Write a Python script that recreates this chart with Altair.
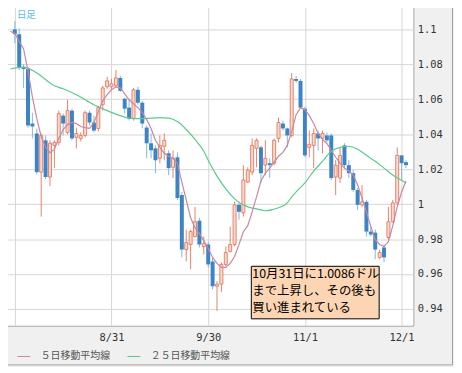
import altair as alt
import pandas as pd

# ---- data ----
dates = pd.bdate_range("2011-08-01", "2011-12-02")
date_labels = [f"{d.month}/{d.day}" for d in dates]

opens = [1.1000, 1.0972, 1.0784, 1.0773, 1.0461, 1.0404, 1.0183, 1.0365, 1.0155, 1.0336,
         1.0353, 1.0506, 1.0410, 1.0535, 1.0382, 1.0376, 1.0393, 1.0523, 1.0467, 1.0433,
         1.0569, 1.0671, 1.0671, 1.0677, 1.0722, 1.0603, 1.0552, 1.0489, 1.0654, 1.0580,
         1.0438, 1.0348, 1.0319, 1.0262, 1.0331, 1.0291, 1.0211, 1.0268, 1.0052, 0.9740,
         0.9769, 0.9814, 0.9905, 0.9757, 0.9769, 0.9672, 0.9530, 0.9542, 0.9655, 0.9729,
         0.9769, 0.9996, 0.9950, 1.0126, 1.0183, 1.0319, 1.0325, 1.0223, 1.0234, 1.0234,
         1.0376, 1.0461, 1.0433, 1.0393, 1.0716, 1.0705, 1.0546, 1.0325, 1.0336, 1.0404,
         1.0376, 1.0393, 1.0393, 1.0155, 1.0149, 1.0336, 1.0223, 1.0177, 1.0081, 0.9996,
         1.0013, 0.9843, 0.9837, 0.9695, 0.9752, 0.9809, 0.9899, 1.0007, 1.0279, 1.0240]
closes = [1.0972, 1.0779, 1.0773, 1.0450, 1.0444, 1.0183, 1.0393, 1.0155, 1.0348, 1.0353,
          1.0518, 1.0461, 1.0535, 1.0376, 1.0404, 1.0393, 1.0523, 1.0467, 1.0421, 1.0552,
          1.0665, 1.0705, 1.0688, 1.0722, 1.0648, 1.0546, 1.0489, 1.0654, 1.0580, 1.0461,
          1.0348, 1.0308, 1.0251, 1.0336, 1.0365, 1.0206, 1.0262, 1.0035, 0.9740, 0.9780,
          0.9843, 0.9899, 0.9769, 0.9774, 0.9655, 0.9530, 0.9542, 0.9655, 0.9723, 0.9769,
          0.9996, 0.9956, 1.0138, 1.0194, 1.0336, 1.0365, 1.0177, 1.0262, 1.0223, 1.0365,
          1.0467, 1.0433, 1.0393, 1.0716, 1.0705, 1.0552, 1.0279, 1.0342, 1.0404, 1.0376,
          1.0404, 1.0365, 1.0149, 1.0223, 1.0279, 1.0223, 1.0177, 1.0081, 0.9996, 1.0013,
          0.9843, 0.9826, 0.9740, 0.9723, 0.9695, 0.9899, 1.0007, 1.0279, 1.0234, 1.0223]
highs = [1.1045, 1.1006, 1.0801, 1.0784, 1.0523, 1.0433, 1.0404, 1.0393, 1.0365, 1.0365,
         1.0535, 1.0518, 1.0597, 1.0546, 1.0438, 1.0410, 1.0535, 1.0535, 1.0506, 1.0563,
         1.0677, 1.0728, 1.0716, 1.0767, 1.0733, 1.0609, 1.0603, 1.0665, 1.0671, 1.0591,
         1.0450, 1.0404, 1.0336, 1.0393, 1.0404, 1.0308, 1.0308, 1.0296, 1.0070, 0.9854,
         0.9854, 0.9984, 0.9922, 0.9814, 0.9786, 0.9695, 0.9559, 0.9667, 0.9757, 0.9871,
         1.0013, 1.0013, 1.0223, 1.0211, 1.0376, 1.0376, 1.0336, 1.0365, 1.0262, 1.0376,
         1.0495, 1.0478, 1.0438, 1.0750, 1.0733, 1.0716, 1.0557, 1.0421, 1.0433, 1.0421,
         1.0421, 1.0410, 1.0404, 1.0251, 1.0325, 1.0348, 1.0251, 1.0194, 1.0092, 1.0109,
         1.0024, 0.9871, 0.9854, 0.9740, 0.9769, 0.9984, 1.0024, 1.0325, 1.0279, 1.0251]
lows = [1.0921, 1.0767, 1.0665, 1.0438, 1.0376, 1.0172, 0.9928, 1.0143, 1.0104, 1.0206,
        1.0336, 1.0393, 1.0399, 1.0365, 1.0319, 1.0359, 1.0382, 1.0450, 1.0410, 1.0416,
        1.0535, 1.0660, 1.0660, 1.0671, 1.0643, 1.0518, 1.0478, 1.0478, 1.0569, 1.0433,
        1.0262, 1.0262, 1.0177, 1.0234, 1.0251, 1.0166, 1.0149, 1.0024, 0.9695, 0.9672,
        0.9627, 0.9809, 0.9752, 0.9712, 0.9638, 0.9513, 0.9389, 0.9496, 0.9644, 0.9723,
        0.9757, 0.9911, 0.9928, 1.0121, 1.0166, 1.0211, 1.0121, 1.0166, 1.0149, 1.0223,
        1.0353, 1.0421, 1.0325, 1.0382, 1.0694, 1.0546, 1.0268, 1.0268, 1.0206, 1.0308,
        1.0291, 1.0353, 1.0138, 1.0052, 1.0121, 1.0206, 1.0149, 1.0070, 0.9967, 0.9984,
        0.9814, 0.9814, 0.9684, 0.9684, 0.9667, 0.9797, 0.9894, 0.9996, 1.0138, 1.0206]

ma_names = ["５日移動平均線", "２５日移動平均線"]
ma5_idx = list(range(-1, 90))
ma5_vals = [1.0989, 1.0977, 1.0932, 1.0887, 1.0762, 1.0614, 1.0489, 1.0387, 1.0325, 1.0294,
            1.0313, 1.0376, 1.0427, 1.0455, 1.0467, 1.0461, 1.0444, 1.0438, 1.0433, 1.0467,
            1.0529, 1.0591, 1.0626, 1.0654, 1.0671, 1.0665, 1.0631, 1.0597, 1.0574, 1.0552,
            1.0523, 1.0484, 1.0433, 1.0365, 1.0325, 1.0291, 1.0274, 1.0262, 1.0234, 1.0126,
            1.0024, 0.9922, 0.9865, 0.9831, 0.9791, 0.9746, 0.9695, 0.9661, 0.9638, 0.9638,
            0.9661, 0.9700, 0.9768, 0.9842, 0.9877, 0.9956, 1.0041, 1.0132, 1.0177, 1.0206,
            1.0240, 1.0274, 1.0296, 1.0336, 1.0416, 1.0512, 1.0552, 1.0540, 1.0506, 1.0461,
            1.0404, 1.0370, 1.0347, 1.0308, 1.0268, 1.0234, 1.0206, 1.0189, 1.0166, 1.0109,
            1.0035, 0.9956, 0.9871, 0.9797, 0.9769, 0.9757, 0.9786, 0.9877, 0.9984, 1.0069,
            1.0132]
ma25_idx = [-1, 2, 5, 9, 11, 14, 18, 21, 24, 26, 29, 33, 35, 37, 39, 41, 43, 44, 46, 48,
            50, 53, 55, 57, 60, 62, 63, 64, 66, 68, 70, 72, 74, 76, 78, 80, 82, 84, 86, 89]
ma25_vals = [1.0773, 1.0784, 1.0750, 1.0677, 1.0660, 1.0626, 1.0569, 1.0535, 1.0506, 1.0492,
             1.0489, 1.0495, 1.0492, 1.0472, 1.0427, 1.0370, 1.0302, 1.0251, 1.0160, 1.0087,
             1.0030, 0.9984, 0.9973, 0.9962, 0.9979, 1.0007, 1.0041, 1.0070, 1.0121, 1.0189,
             1.0245, 1.0302, 1.0325, 1.0331, 1.0314, 1.0279, 1.0245, 1.0206, 1.0166, 1.0121]

y_ticks = [0.94, 0.96, 0.98, 1.0, 1.02, 1.04, 1.06, 1.08, 1.1]
grid_dates = ["8/1", "8/31", "9/30", "11/1", "12/1"]
shown_dates = ["8/31", "9/30", "11/1", "12/1"]
note_lines = ["10月31日に1.0086ドル", "まで上昇し、その後も", "買い進まれている"]
period_label = "日足"

# ---- styles ----
UP_STROKE = "#e5836a"
UP_FILL = "#fadbcf"
DOWN = "#3d84c6"
DOWN_WICK = "#86b5de"
MA_COLORS = ["#c9869f", "#5cc98e"]
JP = "Noto Sans CJK JP"
MONO = "DejaVu Sans Mono"

candles = pd.DataFrame({"i": range(len(opens)), "date": date_labels,
                        "open": opens, "close": closes, "high": highs, "low": lows})

grid_idx = [date_labels.index(d) for d in grid_dates]
label_expr = ""
for d in shown_dates:
    label_expr += f"datum.value == {date_labels.index(d)} ? '{d}' : "
label_expr += "''"

xscale = alt.Scale(domain=[-1.1, 89.55], nice=False, zero=False)
yscale = alt.Scale(domain=[0.9304, 1.1130], nice=False, zero=False)
xaxis = alt.Axis(values=grid_idx, labelExpr=label_expr, title=None, grid=True,
                 ticks=False, domain=False, labelPadding=7, labelFlush=False,
                 labelOverlap=False)
yaxis = alt.Axis(orient="right", values=y_ticks, format=".3~g", title=None, grid=True,
                 ticks=False, domain=False, labelPadding=4, labelFlush=False,
                 labelOverlap=False)

def X(f):
    return alt.X(f, scale=xscale, axis=xaxis)

def Y(f):
    return alt.Y(f, scale=yscale, axis=yaxis)

base = alt.Chart(candles)
up_f = "datum.close >= datum.open"
dn_f = "datum.close < datum.open"

wick_up = base.transform_filter(up_f).mark_rule(color=UP_STROKE, strokeWidth=1).encode(
    x=X("i:Q"), y=Y("low:Q"), y2="high:Q")
wick_dn = base.transform_filter(dn_f).mark_rule(color=DOWN_WICK, strokeWidth=1).encode(
    x=X("i:Q"), y=Y("low:Q"), y2="high:Q")
body_dn = base.transform_filter(dn_f).mark_bar(color=DOWN, size=4).encode(
    x=X("i:Q"), y=Y("open:Q"), y2="close:Q")
body_up = base.transform_filter(up_f).mark_bar(
    fill=UP_FILL, stroke=UP_STROKE, strokeWidth=1, size=3).encode(
    x=X("i:Q"), y=Y("open:Q"), y2="close:Q")

ma5_df = pd.DataFrame({"i": ma5_idx, "v": ma5_vals, "s": ma_names[0]})
ma25_df = pd.DataFrame({"i": ma25_idx, "v": ma25_vals, "s": ma_names[1]})
color = alt.Color("s:N", scale=alt.Scale(domain=ma_names, range=MA_COLORS),
                  legend=alt.Legend(orient="none", legendX=12, legendY=346,
                                    direction="horizontal", title=None,
                                    symbolType="stroke", symbolSize=169,
                                    symbolStrokeWidth=1, labelFont=JP,
                                    labelFontSize=10, labelColor="#555555",
                                    labelOffset=10, columnPadding=15, padding=0))
line5 = alt.Chart(ma5_df).mark_line(strokeWidth=1.2).encode(
    x=X("i:Q"), y=Y("v:Q"), color=color)
line25 = alt.Chart(ma25_df).mark_line(strokeWidth=1.2, interpolate="monotone").encode(
    x=X("i:Q"), y=Y("v:Q"), color=color)

one = pd.DataFrame({"t": ["\n".join(note_lines)]})
note_box = alt.Chart(one).mark_rect(fill="#fcd5b4", stroke="black", strokeWidth=1).encode(
    x=alt.value(248.5), x2=alt.value(377.5), y=alt.value(262), y2=alt.value(315))
note_text = alt.Chart(one).mark_text(align="left", baseline="middle", lineBreak="\n",
                                     lineHeight=17.5, font=JP, fontSize=12.5,
                                     color="black").encode(
    x=alt.value(249.5), y=alt.value(269.5), text="t:N")

period = alt.Chart(pd.DataFrame({"t": [period_label]})).mark_text(
    align="left", baseline="middle", font=JP, fontSize=9.5, color="#59b9e6").encode(
    x=alt.value(12), y=alt.value(8.5), text="t:N")

frame_r = alt.Chart(one).mark_rule(color="#a0a0a0", strokeWidth=1).encode(
    x=alt.value(451.5), y=alt.value(-5), y2=alt.value(361.5))
frame_b = alt.Chart(one).mark_rule(color="#a0a0a0", strokeWidth=1).encode(
    x=alt.value(-5), x2=alt.value(451.5), y=alt.value(361.5))

chart = alt.layer(wick_up, wick_dn, body_dn, body_up, line25, line5,
                  note_box, note_text, period, frame_r, frame_b).properties(
    width=412, height=322,
    padding={"left": -3, "top": -3, "right": 41, "bottom": 40},
    autosize=alt.AutoSizeParams(type="none"),
    background="#f0f0f0",
).configure_view(fill="white", stroke="#a6a6a6").configure_axis(
    labelFont=MONO, labelFontSize=10.5, labelColor="#333333",
    gridColor="#d6d6d6", gridWidth=1)

chart.save("out.html", embed_options={"renderer": "svg", "actions": False})
